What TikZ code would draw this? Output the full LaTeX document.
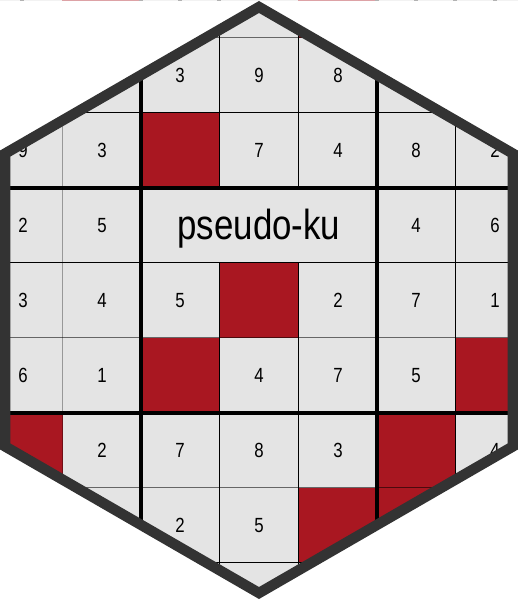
\documentclass[tikz,border=0pt]{standalone}
\usepackage{fontspec}
\setmainfont{Liberation Sans}
\newfontfamily\narrowface[FakeStretch=0.82]{Liberation Sans}
\newfontfamily\titleface[FakeStretch=0.83]{Liberation Sans}
\definecolor{cellgrey}{HTML}{E4E4E4}
\definecolor{cellred}{HTML}{A91721}
\definecolor{hexframe}{HTML}{333333}
\tikzset{
  x=1pt,y=-1pt,
  redcell/.style={fill=cellred,draw=none},
  thinblack/.style={draw=black,line width=1pt},
  thinmid/.style={draw=black,line width=1pt,draw opacity=.55},
  thinpale/.style={draw=black,line width=1pt,draw opacity=.33},
  thickrule/.style={draw=black,line width=3.9pt},
  digit/.style={anchor=base,inner sep=0pt,text=black,font=\narrowface\fontsize{20.5}{24}\selectfont},
  titletext/.style={anchor=base,inner sep=0pt,text=black,font=\titleface\fontsize{42}{48}\selectfont},
  hexline/.style={draw=hexframe,line width=10.4pt,miter limit=10,line join=miter},
  strip/.style={fill=#1,draw=none},
}
\def\hexpath{(259,7) -- (512.75,153.5) -- (512.75,446.5) -- (259,593) -- (5.25,446.5) -- (5.25,153.5) -- cycle}
\begin{document}
\begin{tikzpicture}
\useasboundingbox (0,0) rectangle (518,600);
\fill[white] (0,0) rectangle (518,600);
% faint remains of the neighbouring rows at the page edges
\fill[strip=black!5] (0,0) rectangle (518,.8);
\fill[strip=cellred!40] (62,0) rectangle (139,.8);
\fill[strip=cellred!40] (298,0) rectangle (376,.8);
\foreach \tx in {22,141,180,219,377,416,455,495}
  \fill[strip=black!30] (\tx-2,0) rectangle (\tx+2,.8);
\begin{scope}
  \clip \hexpath;
  \fill[cellgrey] (0,0) rectangle (518,600);
  \fill[redcell] (298.5,-38) rectangle (377,37.5);
  \fill[redcell] (141,112.5) rectangle (219.5,187.5);
  \fill[redcell] (219.5,262.5) rectangle (298.5,337.5);
  \fill[redcell] (141,337.5) rectangle (219.5,412.5);
  \fill[redcell] (455.5,337.5) rectangle (518,412.5);
  \fill[redcell] (0,412.5) rectangle (62.5,487.5);
  \fill[redcell] (298.5,487.5) rectangle (377,562.5);
  \fill[redcell] (377,412.5) rectangle (455.5,562.5);
  \draw[thinpale] (62.5,0) -- (62.5,600);
  \draw[thinblack] (219.5,0) -- (219.5,187.5) (219.5,262.5) -- (219.5,600);
  \draw[thinblack] (298.5,0) -- (298.5,187.5) (298.5,262.5) -- (298.5,600);
  \draw[thinblack] (455.5,0) -- (455.5,600);
  \draw[thinmid] (0,37.5) -- (518,37.5);
  \draw[thinblack] (0,112.5) -- (518,112.5);
  \draw[thinblack] (0,262.5) -- (518,262.5);
  \draw[thinmid] (0,337.5) -- (518,337.5);
  \draw[thinmid] (0,487.5) -- (518,487.5);
  \draw[thinblack] (0,562.5) -- (518,562.5);
  \draw[thickrule] (140.8,0) -- (140.8,600);
  \draw[thickrule] (376.8,0) -- (376.8,600);
  \draw[thickrule] (0,187.6) -- (518,187.6);
  \draw[thickrule] (0,412.8) -- (518,412.8);
  \node[titletext] (title) at (259,239) {pseudo-ku};
  \foreach \dx/\dy/\dv [count=\di] in {
    180/82/3,259/82/9,338/82/8,
    23/157/9,102/157/3,259/157/7,338/157/4,416/157/8,495/157/2,
    23/232/2,102/232/5,416/232/4,495/232/6,
    23/307/3,102/307/4,180/307/5,338/307/2,416/307/7,495/307/1,
    23/382/6,102/382/1,259/382/4,338/382/7,416/382/5,
    102/457/2,180/457/7,259/457/8,338/457/3,495/457/4,
    180/532/2,259/532/5}
    \node[digit] (d\di) at (\dx,\dy) {\dv};
\end{scope}
\draw[hexline] \hexpath;
\end{tikzpicture}
\end{document}
